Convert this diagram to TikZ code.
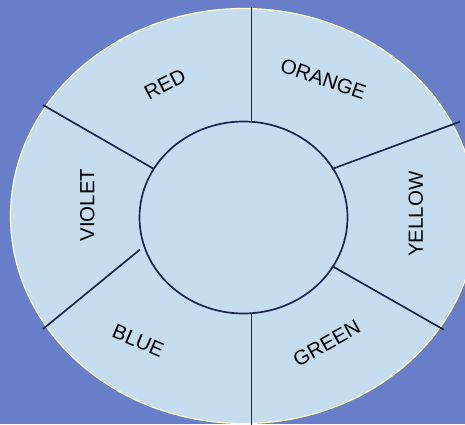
\documentclass[tikz,border=0pt]{standalone}
\usepackage{fontspec}
\setmainfont{Liberation Sans}
\definecolor{bgblue}{RGB}{104,126,200}
\definecolor{ringfill}{RGB}{198,221,240}
\definecolor{linenavy}{RGB}{28,38,78}
\definecolor{rimyellow}{RGB}{255,255,200}
\begin{document}
\begin{tikzpicture}[x=1pt,y=-1pt,
  divider/.style={draw=linenavy,line width=1.7pt},
  label/.style={font=\fontsize{20.5}{24}\selectfont,text=black,inner sep=0pt}]
\useasboundingbox (0,0) rectangle (465,424);
\clip (0,0) rectangle (465,424);
\fill[bgblue] (0,0) rectangle (465,424);
% outer ring
\draw[fill=ringfill,draw=rimyellow,line width=1.2pt] (243.5,216) ellipse [x radius=233, y radius=207.5];
% inner circle
\draw[divider,fill=ringfill] (243.5,217.5) ellipse [x radius=104, y radius=96];
% divider end points
\coordinate (t1) at (251.5,7);   \coordinate (t2) at (251.5,121.5);
\coordinate (b1) at (251.5,313.5); \coordinate (b2) at (251.5,426);
\coordinate (ul1) at (43,105);   \coordinate (ul2) at (154,169);
\coordinate (ll1) at (43,329);   \coordinate (ll2) at (140,249.5);
\coordinate (ur1) at (460,121.7); \coordinate (ur2) at (332,169);
\coordinate (lr1) at (332,266);  \coordinate (lr2) at (443.5,329.5);
\draw[divider] (t1) -- (t2);
\draw[divider] (b1) -- (b2);
\draw[divider] (ul1) -- (ul2);
\draw[divider] (ll1) -- (ll2);
\draw[divider] (ur1) -- (ur2);
\draw[divider] (lr1) -- (lr2);
% labels
\node[label,rotate=27] (red) at (165,84) {RED};
\node[label,rotate=-19] (orange) at (323.3,79.2) {ORANGE};
\node[label,rotate=90] (violet) at (87.3,205) {VIOLET};
\node[label,rotate=90] (yellow) at (415.8,214.2) {YELLOW};
\node[label,rotate=-23] (blue) at (138.3,340.8) {BLUE};
\node[label,rotate=29] (green) at (326.7,343.3) {GREEN};
\end{tikzpicture}
\end{document}
